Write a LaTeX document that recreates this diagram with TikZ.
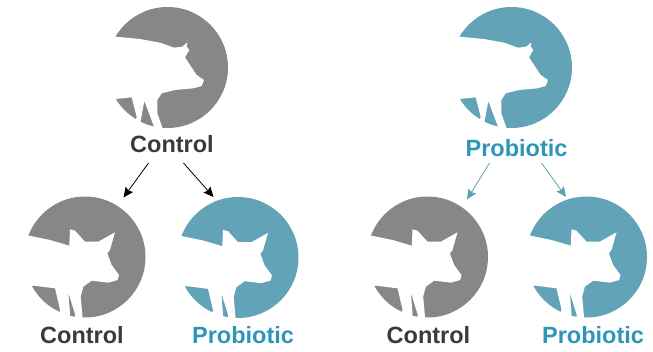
\documentclass[tikz,border=0pt]{standalone}
\usepackage{fontspec}
\setmainfont{Liberation Sans}
\usepackage{xcolor}
\definecolor{DiscGray}{RGB}{135,135,135}
\definecolor{DiscTeal}{RGB}{98,163,184}
\definecolor{LabelGray}{RGB}{58,58,58}
\definecolor{LabelTeal}{RGB}{46,149,184}
\definecolor{ArrowTeal}{RGB}{92,162,174}
\usepackage{tikz}
\usetikzlibrary{arrows.meta}
\tikzset{
  % Round backing of a pig
  pigdisc/.style={circle, draw=none, minimum size=121pt, inner sep=0pt},
  pigdisc gray/.style={pigdisc, fill=DiscGray},
  pigdisc teal/.style={pigdisc, fill=DiscTeal},
  % Labels
  piglabel/.style={font=\fontsize{23.5}{28}\bfseries\selectfont, inner sep=0pt},
  piglabel gray/.style={piglabel, text=LabelGray},
  piglabel teal/.style={piglabel, text=LabelTeal},
  % Arrows
  arr/.style={-{Stealth[length=10pt,width=9pt,inset=1.5pt]}, line width=0.8pt, black},
  arr teal/.style={arr, ArrowTeal},
  % Silhouettes, traced around the disc centre
  pics/sow/.style={code={
    \fill[white, x=0.3333pt, y=-0.3333pt, shift={(-202.5,-202.5)}]
      (10,100) -- (47,110) -- (120,117) -- (180,128) -- (222,143) -- (247,140)
      -- (262,127) -- (260,140) -- (268,150) -- (255,172) -- (270,195)
      -- (290,225) -- (312,240) -- (305,258) -- (280,265) -- (225,270)
      -- (185,280) -- (172,300) -- (172,340) -- (188,385) -- (190,400)
      -- (160,400) -- (162,380) -- (133,303) -- (122,363) -- (118,395)
      -- (100,385) -- (110,350) -- (95,292) -- (48,297) -- (10,305) -- cycle;
  }},
  pics/piglet/.style={code={
    \fill[white, x=0.3333pt, y=-0.3333pt, shift={(-195,-201)}]
      (5,130) -- (27,137) -- (90,150) -- (148,167) -- (150,118) -- (165,122)
      -- (195,155) -- (235,155) -- (285,127) -- (270,180) -- (262,190)
      -- (275,225) -- (297,255) -- (293,270) -- (265,278) -- (215,272)
      -- (190,290) -- (182,320) -- (188,385) -- (190,400) -- (165,400)
      -- (165,372) -- (145,308) -- (150,370) -- (148,395) -- (115,385)
      -- (120,358) -- (105,295) -- (42,287) -- (5,290) -- cycle;
  }},
}
\begin{document}
\begin{tikzpicture}[x=1pt, y=-1pt]
  \useasboundingbox (0,0) rectangle (653,351);

  \node[pigdisc gray] (sowa) at (167.5,67.5) {};
  \pic at (sowa) {sow};
  \node[pigdisc teal] (sowb) at (511.5,67.5) {};
  \pic at (sowb) {sow};

  \node[pigdisc gray] (pigaa) at (85,257) {};
  \pic at (pigaa) {piglet};
  \node[pigdisc teal] (pigab) at (238,257.5) {};
  \pic at (pigab) {piglet};
  \node[pigdisc gray] (pigba) at (427.5,257) {};
  \pic at (pigba) {piglet};
  \node[pigdisc teal] (pigbb) at (586.5,257) {};
  \pic at (pigbb) {piglet};

  \node[piglabel gray] (sowatxt) at (172,144) {Control};
  \node[piglabel teal] (sowbtxt) at (516.5,148.5) {Probiotic};
  \node[piglabel gray] (aatxt) at (82,335) {Control};
  \node[piglabel teal] (abtxt) at (243,335) {Probiotic};
  \node[piglabel gray] (batxt) at (428.5,335) {Control};
  \node[piglabel teal] (bbtxt) at (593,335) {Probiotic};

  %% Arrows
  \coordinate (aafree) at (123.5,197.5);
  \coordinate (abfree) at (213.5,197);
  \coordinate (bafree) at (467,199.5);
  \coordinate (bbfree) at (566,197);
  \draw[arr] (148.5,163) -- (aafree);
  \draw[arr] (183.5,163) -- (abfree);
  \draw[arr teal] (489.5,163) -- (bafree);
  \draw[arr teal] (541.5,163) -- (bbfree);

\end{tikzpicture}
\end{document}
